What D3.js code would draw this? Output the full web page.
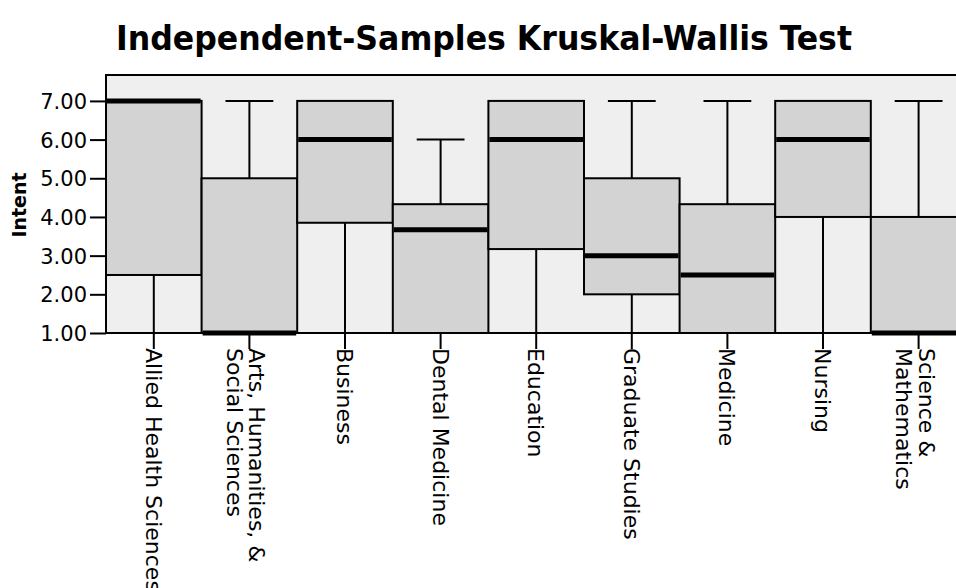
<!DOCTYPE html>
<html>
<head>
<meta charset="utf-8">
<script src="https://cdn.jsdelivr.net/npm/d3@7"></script>
<style>
  html, body { margin: 0; padding: 0; background: #fff; }
  svg { display: block; }
</style>
</head>
<body>
<svg id="chart" width="956" height="588"></svg>
<script>
const categories = [
  ['Allied Health Sciences'],
  ['Arts, Humanities, &', 'Social Sciences'],
  ['Business'],
  ['Dental Medicine'],
  ['Education'],
  ['Graduate Studies'],
  ['Medicine'],
  ['Nursing'],
  ['Science &', 'Mathematics']
]
const mins = [1, 1, 1, 1, 1, 1, 1, 1, 1]
const q1s = [2.5, 1, 3.85, 1, 3.17, 2, 1, 4, 1]
const medians = [7, 1, 6, 3.67, 6, 3, 2.5, 6, 1]
const q3s = [7, 5, 7, 4.33, 7, 5, 4.33, 7, 4]
const maxs = [7, 7, 7, 6, 7, 7, 7, 7, 7]
const yTicks = [1, 2, 3, 4, 5, 6, 7]

const title = 'Independent-Samples Kruskal-Wallis Test'
const yLabel = 'Intent'

const margin = { top: 75, left: 106 }
const plotBottom = 333
const bandStep = 95.6
const labelSize = 22

const svg = d3.select('#chart')

const keys = categories.map(c => c.join(' '))
const boxes = keys.map((k, i) => ({
  key: k,
  lines: categories[i],
  min: mins[i],
  q1: q1s[i],
  median: medians[i],
  q3: q3s[i],
  max: maxs[i]
}))

const xScale = d3.scaleBand()
  .domain(keys)
  .range([margin.left, margin.left + bandStep * keys.length])
  .padding(0)

const yScale = d3.scaleLinear()
  .domain([1, 7.67])
  .range([plotBottom, margin.top])

const fontFamily = 'DejaVu Sans, Verdana, sans-serif'

// title
svg.append('text')
  .attr('x', 484)
  .attr('y', 50)
  .attr('text-anchor', 'middle')
  .attr('font-family', 'DejaVu Sans Condensed, DejaVu Sans, sans-serif')
  .attr('font-weight', 'bold')
  .attr('font-size', 34)
  .attr('textLength', 736)
  .attr('lengthAdjust', 'spacingAndGlyphs')
  .attr('fill', '#000')
  .text(title)

// plot background
svg.append('rect')
  .attr('x', xScale.range()[0])
  .attr('y', margin.top)
  .attr('width', xScale.range()[1] - xScale.range()[0])
  .attr('height', plotBottom - margin.top)
  .attr('fill', '#efefef')

const g = svg.append('g')

const box = g.selectAll('g.box')
  .data(boxes)
  .join('g')
  .attr('class', 'box')

const cx = d => xScale(d.key) + xScale.bandwidth() / 2
const capHalf = xScale.bandwidth() / 4

// whiskers
box.filter(d => d.max > d.q3).append('line')
  .attr('x1', cx).attr('x2', cx)
  .attr('y1', d => yScale(d.q3)).attr('y2', d => yScale(d.max))
  .attr('stroke', '#000').attr('stroke-width', 2)

box.filter(d => d.max > d.q3).append('line')
  .attr('x1', d => cx(d) - capHalf).attr('x2', d => cx(d) + capHalf)
  .attr('y1', d => yScale(d.max)).attr('y2', d => yScale(d.max))
  .attr('stroke', '#000').attr('stroke-width', 2)

box.filter(d => d.min < d.q1).append('line')
  .attr('x1', cx).attr('x2', cx)
  .attr('y1', d => yScale(d.q1)).attr('y2', d => yScale(d.min))
  .attr('stroke', '#000').attr('stroke-width', 2)

// boxes
box.append('rect')
  .attr('x', d => xScale(d.key))
  .attr('y', d => yScale(d.q3))
  .attr('width', xScale.bandwidth())
  .attr('height', d => yScale(d.q1) - yScale(d.q3))
  .attr('fill', '#d3d3d3')
  .attr('stroke', '#000')
  .attr('stroke-width', 2)

// medians
box.append('line')
  .attr('x1', d => xScale(d.key) + 1)
  .attr('x2', d => xScale(d.key) + xScale.bandwidth() - 1)
  .attr('y1', d => yScale(d.median))
  .attr('y2', d => yScale(d.median))
  .attr('stroke', '#000')
  .attr('stroke-width', 5)

// frame top + left
svg.append('path')
  .attr('d', `M${xScale.range()[1]},${margin.top}H${margin.left}V${plotBottom}`)
  .attr('fill', 'none')
  .attr('stroke', '#000')
  .attr('stroke-width', 2)

// y axis
const yAxis = d3.axisLeft(yScale)
  .tickValues(yTicks)
  .tickFormat(d3.format('.2f'))
  .tickSize(16)
  .tickPadding(3)

const yAxisG = svg.append('g')
  .attr('transform', `translate(${margin.left},0)`)
  .call(yAxis)

yAxisG.select('.domain').remove()
yAxisG.selectAll('.tick line').attr('stroke', '#000').attr('stroke-width', 2)
yAxisG.selectAll('.tick text')
  .attr('font-family', fontFamily)
  .attr('font-size', 21)
  .attr('fill', '#000')
  .attr('dy', '0.36em')

// x axis
const xAxis = d3.axisBottom(xScale)
  .tickSize(16)
  .tickFormat('')

const xAxisG = svg.append('g')
  .attr('transform', `translate(0,${plotBottom})`)
  .call(xAxis)

xAxisG.select('.domain')
  .attr('d', `M${xScale.range()[0]},0H${xScale.range()[1]}`)
  .attr('stroke', '#000')
  .attr('stroke-width', 2)
xAxisG.selectAll('.tick line').attr('stroke', '#000').attr('stroke-width', 2)

// category labels, rotated to read downward
const labels = svg.append('g')
  .selectAll('text')
  .data(boxes)
  .join('text')
  .attr('transform', d => `translate(${cx(d)},${plotBottom + 15}) rotate(90)`)
  .attr('font-family', fontFamily)
  .attr('font-size', labelSize)
  .attr('fill', '#000')

labels.selectAll('tspan')
  .data(d => d.lines.map((t, i) => ({ t, i, n: d.lines.length })))
  .join('tspan')
  .attr('x', 0)
  .attr('y', d => ((0.36 - (d.n - 1) * 0.36 + d.i * 1.02) * labelSize).toFixed(1))
  .text(d => d.t)

// y axis title
svg.append('text')
  .attr('transform', 'translate(26,205) rotate(-90)')
  .attr('text-anchor', 'middle')
  .attr('font-family', fontFamily)
  .attr('font-weight', 'bold')
  .attr('font-size', 19)
  .attr('fill', '#000')
  .text(yLabel)
</script>
</body>
</html>
